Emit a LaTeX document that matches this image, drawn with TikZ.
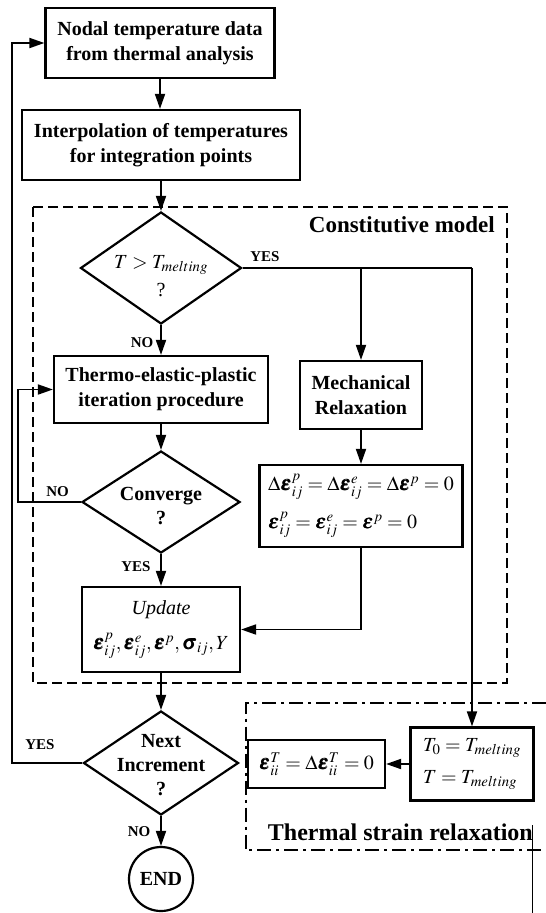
\documentclass[tikz,border=0pt]{standalone}
\usepackage{mathptmx}
\usepackage{bm}
\usepackage{fontspec}
\setmainfont{Liberation Serif}
\usetikzlibrary{shapes.geometric,arrows.meta,calc}
\newcommand{\ve}{\bm{\varepsilon}}
\begin{document}
\begin{tikzpicture}[x=1pt,y=-1pt,
  box/.style={draw, line width=2.2pt, inner sep=0pt, align=center, font=\bfseries\fontsize{20}{25}\selectfont},
  mbox/.style={draw, line width=2.2pt, inner sep=0pt, align=left, font=\fontsize{20}{25}\selectfont},
  dia/.style={draw, diamond, line width=2.2pt, inner sep=0pt},
  dtext/.style={align=center, inner sep=0pt, font=\bfseries\fontsize{20}{24}\selectfont},
  lbl/.style={font=\bfseries\fontsize{15}{15}\selectfont, inner sep=0pt},
  conn/.style={line width=1.8pt},
  arr/.style={conn, -{Triangle[length=15pt,width=10pt]}},
]
\useasboundingbox (0,0) rectangle (546,913);

% constitutive model region
\draw[line width=1.8pt, dash pattern=on 10pt off 5pt] (33,207) rectangle (507,683);
\node[anchor=east, inner sep=0pt, font=\bfseries\fontsize{23}{23}\selectfont] (cmlabel) at (495,225) {Constitutive model};

% thermal strain relaxation region
\draw[line width=1.8pt, dash pattern=on 14pt off 5pt on 3pt off 5pt] (546,703) -- (245.6,703) -- (245.6,850) -- (546,850);
\node[anchor=east, inner sep=0pt, font=\bfseries\fontsize{24}{24}\selectfont] (tsr) at (533,832) {Thermal strain relaxation};
\draw[line width=0.6pt] (532,825) -- (532,913);

% nodes
\node[box, minimum width=229pt, minimum height=70pt] (n1) at (160,43) {Nodal temperature data\\from thermal analysis};
\node[box, minimum width=278pt, minimum height=70pt] (n2) at (161,145) {Interpolation of temperatures\\for integration points};
\node[dia, minimum width=161pt, minimum height=112pt] (d1) at (161,268) {};
\node[align=center, inner sep=0pt, font=\fontsize{20}{28}\selectfont] (d1t) at (161,276) {$T > T_{melting}$\\?};
\node[box, minimum width=214pt, minimum height=67pt] (thermo) at (161,389.5) {Thermo-elastic-plastic\\iteration procedure};
\node[box, minimum width=122pt, minimum height=68pt] (mech) at (361,395) {Mechanical\\Relaxation};
\node[dia, minimum width=158pt, minimum height=102pt] (d2) at (161,502) {};
\node[dtext] (d2t) at (161,506) {Converge\\?};
\node[mbox, minimum width=203pt, minimum height=82pt] (strain) at (361,506)
  {$\Delta\ve^{p}_{ij} = \Delta\ve^{e}_{ij} = \Delta\ve^{p} = 0$\\[12pt]
   $\ve^{p}_{ij} = \ve^{e}_{ij} = \ve^{p} = 0$};
\node[mbox, align=center, minimum width=158pt, minimum height=85pt] (upd) at (161,629.5)
  {\itshape Update\\[10pt]$\ve^{p}_{ij}, \ve^{e}_{ij}, \ve^{p}, \bm{\sigma}_{ij}, Y$};
\node[dia, minimum width=155pt, minimum height=104pt] (d3) at (161,763) {};
\node[dtext] (d3t) at (161,765) {Next\\Increment\\?};
\node[circle, draw, line width=2.2pt, minimum size=64pt, inner sep=0pt, font=\bfseries\fontsize{20}{20}\selectfont] (end) at (161,879) {END};
\node[mbox, minimum width=123pt, minimum height=73pt] (t0) at (472,764) {$T_0 = T_{melting}$\\[7pt]$T = T_{melting}$};
\node[mbox, minimum width=137pt, minimum height=48pt] (eps) at (316.5,764) {$\ve^{T}_{ii} = \Delta\ve^{T}_{ii} = 0$};

% connectors
\coordinate (yc) at (472,268);
\coordinate (br) at (361,268);
\coordinate (lp) at (11.7,763);
\coordinate (lq) at (18,502);
\draw[arr] (n1.south) -- (n1.south |- n2.north);
\draw[arr] (n2.south) -- (d1.north);
\draw[arr] (d1.south) -- (thermo.north);
\draw[conn] (d1.east) -- (yc);
\draw[arr] (yc) -- (t0.north);
\draw[arr] (br) -- (mech.north);
\draw[arr] (mech.south) -- (strain.north);
\draw[arr] (strain.south) |- (upd.east);
\draw[arr] (thermo.south) -- (d2.north);
\draw[arr] (d2.west) -- (lq) |- (thermo.west);
\draw[arr] (d2.south) -- (upd.north);
\draw[arr] (upd.south) -- (d3.north);
\draw[arr] (d3.west) -- (lp) |- (n1.west);
\draw[arr] (d3.south) -- (end.north);
\draw[arr] (t0.west) -- (eps.east);

% labels
\node[lbl] (l1) at (265,257) {YES};
\node[lbl] (l2) at (142,343) {NO};
\node[lbl] (l3) at (57.5,492) {NO};
\node[lbl] (l4) at (136,567) {YES};
\node[lbl] (l5) at (40,745) {YES};
\node[lbl] (l6) at (139,832) {NO};
\end{tikzpicture}
\end{document}
